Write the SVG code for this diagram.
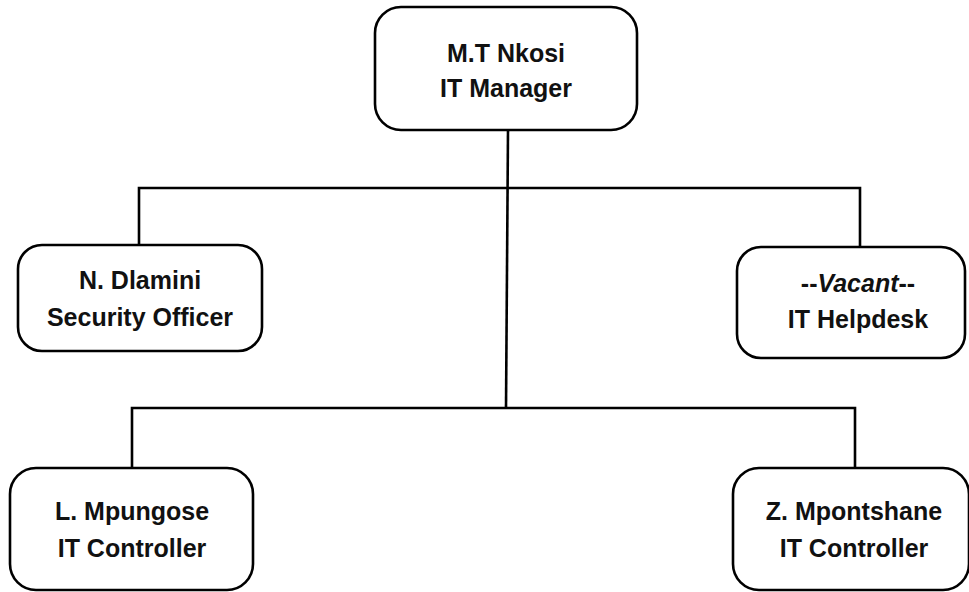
<svg xmlns="http://www.w3.org/2000/svg" width="969" height="592" viewBox="0 0 969 592">
<style>
.box{fill:#fff;stroke:#000;stroke-width:2.6}
.ln{fill:none;stroke:#000;stroke-width:2.6}
.t{font-family:"Liberation Sans",Arial,sans-serif;font-weight:bold;font-size:25px;fill:#111;text-anchor:middle}
</style>
<rect width="969" height="592" fill="#fff"/>
<g id="connectors">
<path class="ln" d="M508 130 L506 408"/>
<path class="ln" d="M139 246 V188 H860 V248"/>
<path class="ln" d="M132 468 V408 H855 V468"/>
</g>
<g id="manager">
<rect class="box" x="375" y="7" width="262" height="123" rx="26"/>
<text class="t" x="506" y="62">M.T Nkosi</text>
<text class="t" x="506" y="97">IT Manager</text>
</g>
<g id="security">
<rect class="box" x="18" y="245" width="244" height="106" rx="24"/>
<text class="t" x="140" y="289">N. Dlamini</text>
<text class="t" x="140" y="326">Security Officer</text>
</g>
<g id="helpdesk">
<rect class="box" x="737" y="247" width="228" height="111" rx="24"/>
<text class="t" x="858" y="292">--<tspan font-style="italic">Vacant</tspan>--</text>
<text class="t" x="858" y="328">IT Helpdesk</text>
</g>
<g id="mpungose">
<rect class="box" x="10" y="468" width="243" height="122" rx="26"/>
<text class="t" x="132" y="520">L. Mpungose</text>
<text class="t" x="132" y="557">IT Controller</text>
</g>
<g id="mpontshane">
<rect class="box" x="733" y="468" width="236" height="122" rx="26"/>
<text class="t" x="854" y="520">Z. Mpontshane</text>
<text class="t" x="854" y="557">IT Controller</text>
</g>
</svg>
